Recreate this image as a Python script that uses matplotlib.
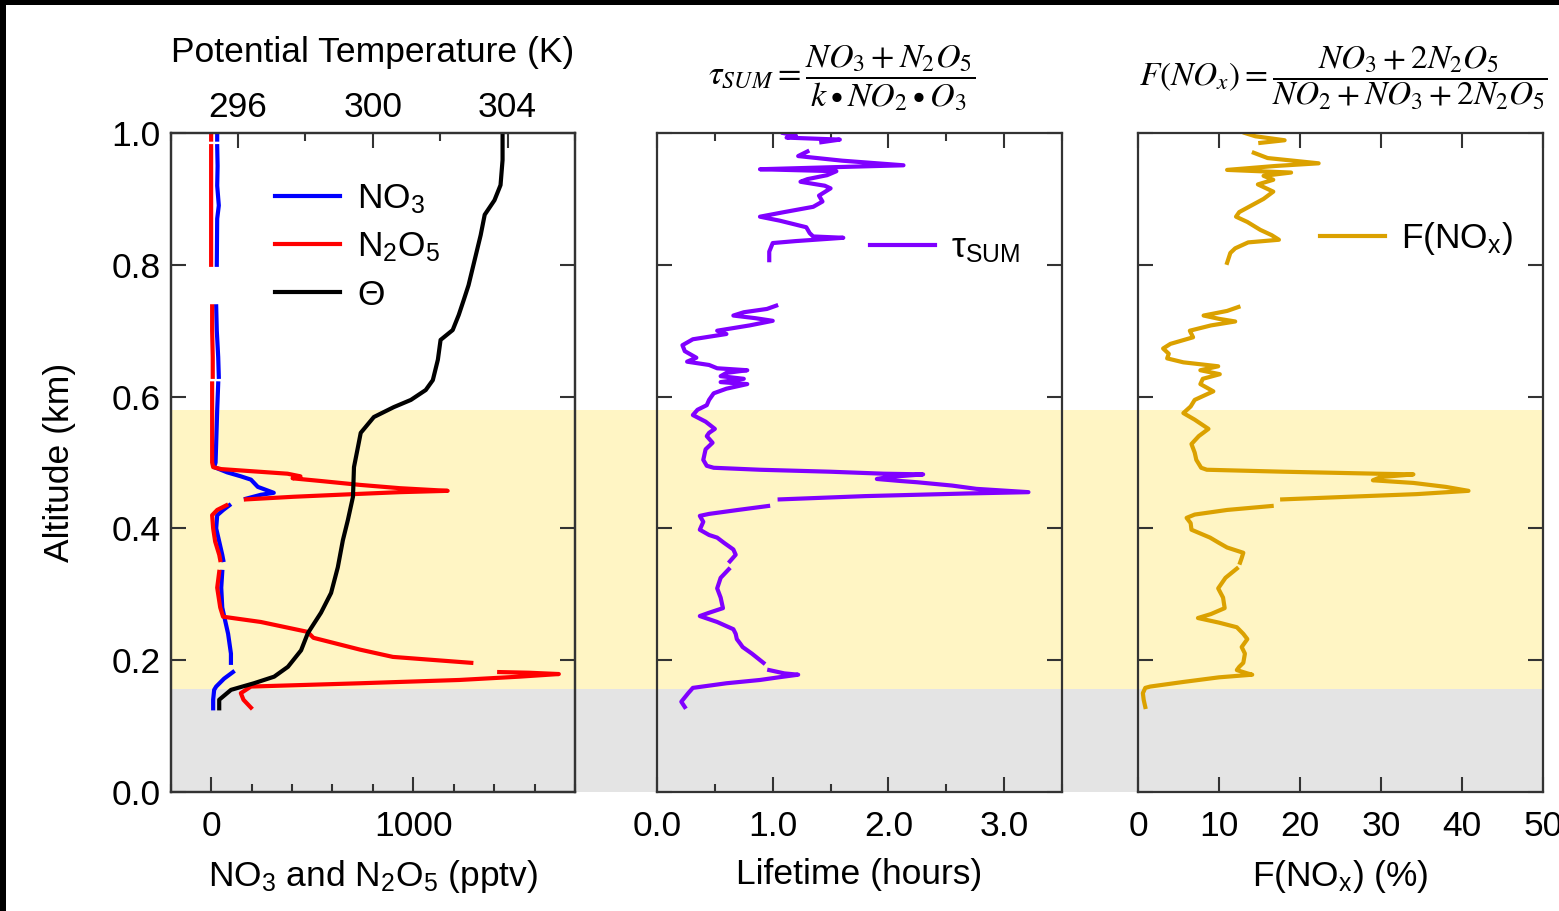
import numpy as np
import matplotlib
matplotlib.use('Agg')
import matplotlib.pyplot as plt
from matplotlib.ticker import MultipleLocator, FormatStrFormatter
from matplotlib.patches import Rectangle

plt.rcParams['font.family'] = ['Liberation Sans', 'DejaVu Sans']
plt.rcParams['mathtext.fontset'] = 'custom'
plt.rcParams['mathtext.rm'] = 'Liberation Sans'
plt.rcParams['mathtext.it'] = 'Liberation Sans:italic'
plt.rcParams['mathtext.bf'] = 'Liberation Sans:bold'

nan = np.nan

# ---------------- data ----------------
# NO3 (pptv) vs altitude (km)
alt_no3 = [1.000, 0.990, nan, 0.980, 0.950, 0.920, 0.890, 0.870, 0.800, nan,
           0.737, 0.700, 0.660, 0.630, nan, 0.620, 0.580, 0.530, 0.500, 0.493,
           0.485, 0.479, 0.474, 0.463, 0.454, 0.451, 0.445, nan,
           0.435, 0.428, 0.420, 0.400, 0.380, 0.360, 0.352, nan,
           0.334, 0.310, 0.280, 0.266, 0.240, 0.210, 0.196, nan,
           0.182, 0.172, 0.160, 0.155, 0.140, 0.127]
no3 = [30, 30, nan, 30, 32, 30, 38, 30, 28, nan,
       25, 28, 35, 38, nan, 35, 30, 25, 22, 15,
       80, 147, 197, 231, 310, 246, 172, nan,
       90, 60, 30, 25, 40, 55, 60, nan,
       55, 50, 55, 65, 84, 98, 98, nan,
       108, 64, 25, 15, 10, 10]

# N2O5 (pptv) vs altitude (km)
alt_n2o5 = [1.000, 0.990, nan, 0.980, 0.900, 0.800, nan,
            0.737, 0.700, 0.660, 0.630, nan, 0.620, 0.550, 0.500, 0.493,
            0.490, 0.483, 0.479, 0.476, 0.472, 0.466, 0.461, 0.457, 0.455,
            0.452, 0.448, 0.444, nan,
            0.435, 0.428, 0.420, 0.400, 0.380, 0.360, 0.352, nan,
            0.334, 0.310, 0.280, 0.266, 0.258, 0.243, 0.234, 0.216, 0.205,
            0.196, nan,
            0.182, 0.181, 0.179, 0.175, 0.170, 0.165, 0.160, 0.150, 0.140,
            0.128]
n2o5 = [0, 0, nan, 0, 0, 0, nan,
        5, 5, 8, 8, nan, 5, 5, 5, 10,
        49, 378, 442, 403, 540, 737, 934, 1170, 934,
        703, 408, 172, nan,
        75, 30, 5, 10, 20, 40, 45, nan,
        40, 30, 45, 59, 246, 477, 506, 737, 899,
        1287, nan,
        1425, 1572, 1720, 1523, 1228, 737, 197, 147, 160,
        197]

# Potential temperature (K) vs altitude (km)
alt_theta = [1.000, 0.959, 0.921, 0.898, 0.876, 0.845, 0.807, 0.769, 0.747,
             0.724, 0.701, 0.686, 0.656, 0.625, 0.610, 0.595, 0.584, 0.569,
             0.545, 0.524, 0.493, 0.448, 0.413, 0.382, 0.341, 0.302, 0.272,
             0.241, 0.215, 0.190, 0.175, 0.165, 0.155, 0.140, 0.127]
theta = [303.85, 303.85, 303.79, 303.61, 303.32, 303.20, 303.02, 302.84,
         302.70, 302.55, 302.37, 302.01, 301.93, 301.78, 301.57, 301.13,
         300.62, 300.03, 299.64, 299.56, 299.44, 299.41, 299.26, 299.11,
         298.96, 298.76, 298.46, 298.07, 297.87, 297.48, 297.07, 296.47,
         295.79, 295.44, 295.44]

# NO3/N2O5 lifetime (hours) vs altitude (km)
alt_tau = [1.000, 0.996, 0.993, 0.990, 0.986, nan,
           0.972, 0.965, 0.958, 0.951, 0.948, 0.945, 0.942, 0.936, 0.930,
           0.926, 0.920, 0.916, 0.905, 0.896, 0.888, 0.880, 0.873, 0.867,
           0.857, 0.848, 0.843, 0.841, 0.836, 0.833, 0.820, 0.807, nan,
           0.738, 0.733, 0.728, 0.723, 0.719, 0.715, 0.708, 0.700, 0.695,
           0.687, 0.678, 0.669, 0.663, 0.659, 0.653, 0.648, 0.643, 0.640,
           0.636, 0.631, 0.627, 0.622, 0.619, 0.612, 0.605, 0.595, 0.587,
           0.580, 0.572, 0.562, 0.551, 0.545, 0.540, 0.530, 0.520, 0.504,
           0.495, 0.492, 0.489, 0.486, 0.483, 0.482, 0.478, 0.475, 0.472,
           0.470, 0.465, 0.460, 0.455, 0.453, 0.449, 0.444, nan,
           0.434, 0.428, 0.422, 0.419, 0.410, 0.398, 0.390, 0.386, 0.378,
           0.368, 0.360, 0.350, nan,
           0.338, 0.325, 0.309, 0.295, 0.279, 0.272, 0.267, 0.258, 0.247,
           0.240, 0.232, 0.225, 0.220, 0.210, 0.196, nan,
           0.185, 0.180, 0.178, 0.174, 0.170, 0.165, 0.158, 0.150, 0.137,
           0.129]
tau = [1.09, 1.20, 1.12, 1.58, 1.42, nan,
       1.30, 1.22, 1.60, 2.13, 1.50, 0.89, 1.55, 1.47, 1.30,
       1.24, 1.45, 1.50, 1.40, 1.43, 1.35, 1.10, 0.89, 1.06,
       1.29, 1.32, 1.35, 1.61, 1.20, 1.00, 0.97, 0.97, nan,
       1.03, 0.95, 0.75, 0.66, 0.85, 1.00, 0.80, 0.52, 0.60,
       0.31, 0.22, 0.24, 0.30, 0.34, 0.26, 0.45, 0.52, 0.78,
       0.60, 0.55, 0.75, 0.55, 0.78, 0.60, 0.49, 0.45, 0.43,
       0.35, 0.31, 0.42, 0.50, 0.45, 0.43, 0.48, 0.42, 0.40,
       0.43, 0.49, 0.89, 1.50, 1.96, 2.30, 2.00, 1.90, 2.10,
       2.25, 2.55, 2.76, 3.21, 2.68, 1.80, 1.06, nan,
       0.96, 0.70, 0.45, 0.37, 0.40, 0.37, 0.45, 0.52, 0.58,
       0.66, 0.68, 0.63, nan,
       0.62, 0.55, 0.52, 0.55, 0.57, 0.45, 0.37, 0.52, 0.66,
       0.68, 0.69, 0.72, 0.74, 0.82, 0.92, nan,
       0.97, 1.10, 1.22, 1.05, 0.89, 0.60, 0.31, 0.27, 0.21,
       0.24]

# F(NOx) (%) vs altitude (km)
alt_fnox = [1.000, 0.995, 0.989, 0.985, nan,
            0.970, 0.962, 0.954, 0.950, 0.944, 0.940, 0.935, 0.929, 0.922,
            0.911, 0.900, 0.890, 0.880, 0.873, 0.865, 0.853, 0.845, 0.838,
            0.834, 0.825, 0.818, 0.803, nan,
            0.736, 0.730, 0.723, 0.718, 0.714, 0.708, 0.700, 0.690, 0.680,
            0.673, 0.665, 0.658, 0.652, 0.646, 0.640, 0.634, 0.627, 0.619,
            0.608, 0.595, 0.585, 0.575, 0.565, 0.551, 0.540, 0.528, 0.515,
            0.504, 0.492, 0.489, 0.486, 0.483, 0.482, 0.478, 0.473, 0.469,
            0.463, 0.457, 0.452, 0.448, 0.444, nan,
            0.434, 0.428, 0.421, 0.416, 0.408, 0.398, 0.386, 0.378, 0.371,
            0.363, 0.355, 0.348, nan,
            0.339, 0.325, 0.309, 0.295, 0.279, 0.270, 0.264, 0.257, 0.250,
            0.240, 0.232, 0.220, 0.210, 0.196, 0.190, 0.185, 0.180, 0.178,
            0.174, 0.167, 0.160, 0.158, 0.150, 0.140, 0.129]
fnox = [13.2, 14.5, 18.1, 15.1, nan,
        14.3, 16.0, 22.3, 17.0, 11.0, 18.9, 15.5, 16.7, 14.8,
        16.7, 15.5, 14.0, 12.5, 12.1, 13.5, 15.1, 16.5, 17.4,
        13.6, 12.0, 11.4, 11.0, nan,
        12.4, 11.0, 8.1, 10.0, 12.0, 9.0, 6.4, 6.8, 4.0,
        3.1, 3.8, 3.6, 5.6, 9.9, 7.7, 10.1, 8.0, 7.7,
        9.3, 7.0, 6.5, 5.6, 7.0, 8.7, 7.5, 6.6, 7.0,
        7.2, 7.8, 8.5, 18.0, 29.5, 34.0, 30.0, 29.0, 34.0,
        38.0, 40.8, 34.4, 26.0, 17.8, nan,
        16.5, 11.0, 7.0, 6.0, 6.5, 6.6, 8.9, 10.0, 11.0,
        13.0, 12.8, 12.6, nan,
        12.2, 10.8, 9.9, 10.5, 10.7, 9.0, 7.4, 10.0, 12.2,
        13.0, 13.5, 12.8, 13.2, 13.0, 12.5, 12.2, 13.5, 14.1,
        10.0, 5.6, 1.5, 0.9, 0.6, 0.7, 0.9]

# shaded layers (km)
residual_layer = (0.157, 0.58)
surface_layer = (0.0, 0.157)

# ---------------- figure ----------------
W, H = 1559, 911
fig = plt.figure(figsize=(W / 100, H / 100), dpi=100)
fig.patch.set_facecolor('white')

bottom = (H - 792) / H
height = 659 / H
x1l, x1r = 170.7, 575
x2l, x2r = 657, 1062
x3l, x3r = 1138, 1543

bg = fig.add_axes([x1l / W, bottom, (x3r - x1l) / W, height], zorder=0)
bg.set_ylim(0, 1)
bg.set_xlim(0, 1)
bg.axhspan(*residual_layer, color='#FFF5C4', lw=0)
bg.axhspan(*surface_layer, color='#E4E4E4', lw=0)
bg.axis('off')

ax1 = fig.add_axes([x1l / W, bottom, (x1r - x1l) / W, height], zorder=1)
ax2 = fig.add_axes([x2l / W, bottom, (x2r - x2l) / W, height], zorder=1)
ax3 = fig.add_axes([x3l / W, bottom, (x3r - x3l) / W, height], zorder=1)

FS = 25.5
spine_c = '#333333'
LW = 3.0

for ax in (ax1, ax2, ax3):
    ax.set_facecolor('none')
    ax.set_ylim(0, 1)
    ax.yaxis.set_major_locator(MultipleLocator(0.2))
    for s in ax.spines.values():
        s.set_linewidth(1.6)
        s.set_color(spine_c)
    ax.tick_params(axis='y', which='major', direction='in', length=11, width=1.5,
                   color=spine_c, left=True, right=True, labelsize=FS, pad=7)
    ax.tick_params(axis='x', which='major', direction='in', length=11, width=1.5,
                   color=spine_c, labelsize=FS, pad=13)
    ax.tick_params(axis='x', which='minor', direction='in', length=6, width=1.5,
                   color=spine_c)

ax1.yaxis.set_major_formatter(FormatStrFormatter('%.1f'))
ax2.tick_params(axis='y', labelleft=False)
ax3.tick_params(axis='y', labelleft=False)

# Panel 1
ax1.plot(no3, alt_no3, color='#0000FF', lw=LW, label=r'$\mathregular{NO_3}$')
ax1.plot(n2o5, alt_n2o5, color='#FF0000', lw=LW, label=r'$\mathregular{N_2O_5}$')
ax1.set_xlim(-200, 1800)
ax1.xaxis.set_major_locator(MultipleLocator(1000))
ax1.xaxis.set_minor_locator(MultipleLocator(200))
ax1.set_xlabel(r'NO$_\mathregular{3}$ and N$_\mathregular{2}$O$_\mathregular{5}$ (pptv)',
               fontsize=FS, labelpad=11)
ax1.set_ylabel('Altitude (km)', fontsize=FS, labelpad=26)

ax1t = ax1.twiny()
ax1t.set_facecolor('none')
ax1t.plot(theta, alt_theta, color='black', lw=LW, label='Θ')
ax1t.set_xlim(294, 306)
ax1t.xaxis.set_major_locator(MultipleLocator(4))
ax1t.xaxis.set_minor_locator(MultipleLocator(2))
ax1t.tick_params(axis='x', which='major', direction='in', length=11, width=1.5,
                 color=spine_c, labelsize=FS, pad=6.5)
ax1t.tick_params(axis='x', which='minor', direction='in', length=6, width=1.5,
                 color=spine_c)
ax1t.set_xlabel('Potential Temperature (K)', fontsize=FS, labelpad=21)
for s in ax1t.spines.values():
    s.set_linewidth(1.6)
    s.set_color(spine_c)

h1, l1 = ax1.get_legend_handles_labels()
h2, l2 = ax1t.get_legend_handles_labels()
ax1t.legend(h1 + h2, l1 + l2, loc='upper left', bbox_to_anchor=(0.257, 0.925),
            frameon=False, fontsize=FS, handlelength=1.84, handletextpad=0.5,
            labelspacing=0.41, borderpad=0, borderaxespad=0)

# Panel 2
ax2.plot(tau, alt_tau, color='#8000FF', lw=LW, label='τ$_\\mathregular{SUM}$')
ax2.set_xlim(0, 3.5)
ax2.xaxis.set_major_locator(MultipleLocator(1.0))
ax2.xaxis.set_minor_locator(MultipleLocator(0.5))
ax2.xaxis.set_major_formatter(FormatStrFormatter('%.1f'))
ax2.tick_params(axis='x', which='both', top=True)
ax2.set_xlabel('Lifetime (hours)', fontsize=FS, labelpad=11)
ax2.legend(loc='center left', bbox_to_anchor=(0.526, 0.825), frameon=False,
           fontsize=FS, handlelength=1.84, handletextpad=0.45, borderpad=0,
           borderaxespad=0)

# Panel 3
ax3.plot(fnox, alt_fnox, color='#DBA100', lw=LW, label=r'F(NO$_\mathregular{x}$)')
ax3.set_xlim(0, 50)
ax3.xaxis.set_major_locator(MultipleLocator(10))
ax3.tick_params(axis='x', which='both', top=True)
ax3.set_xlabel(r'F(NO$_\mathregular{x}$) (%)', fontsize=FS, labelpad=11)
ax3.legend(loc='center left', bbox_to_anchor=(0.449, 0.84), frameon=False,
           fontsize=FS, handlelength=1.84, handletextpad=0.45, borderpad=0,
           borderaxespad=0)

# Formulas
fig.text(842 / W, 1 - 78 / H,
         r'$\tau_{SUM} = \dfrac{NO_3 + N_2O_5}{k \bullet NO_2 \bullet O_3}$',
         math_fontfamily='stix', fontsize=24.5, ha='center', va='center')
fig.text(1343 / W, 1 - 78 / H,
         r'$F(NO_x) = \dfrac{NO_3 + 2N_2O_5}{NO_2 + NO_3 + 2N_2O_5}$',
         math_fontfamily='stix', fontsize=24, ha='center', va='center')

# black frame strips (top, left)
fig.add_artist(Rectangle((0, 1 - 5 / H), 1, 5 / H, transform=fig.transFigure,
                         color='black', lw=0, zorder=10))
fig.add_artist(Rectangle((0, 0), 6 / W, 1, transform=fig.transFigure,
                         color='black', lw=0, zorder=10))

fig.savefig('out.png', dpi=100)
